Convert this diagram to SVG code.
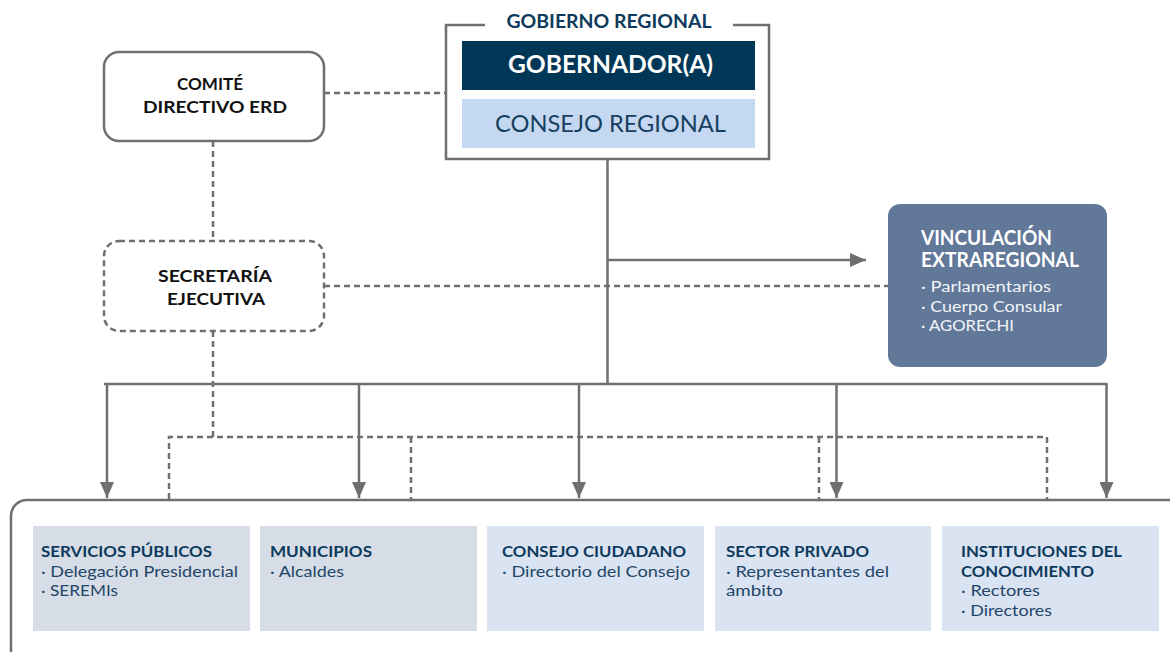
<svg xmlns="http://www.w3.org/2000/svg" width="1170" height="652" viewBox="0 0 1170 652">
<style>
.ln{fill:none;stroke:#6f6f6f;stroke-width:2.5}
.ds{fill:none;stroke:#6f6f6f;stroke-width:2.5;stroke-dasharray:6 4}
.t{font-family:Lato,"Open Sans","DejaVu Sans",sans-serif}
.b{font-weight:bold}
.ttl{font-family:Lato,"Open Sans",sans-serif;font-weight:bold;font-size:16px;fill:#0d3a5c}
.sub{font-family:Lato,"Open Sans",sans-serif;font-size:16px;fill:#1f4668}
.box1{fill:#d6dde7}
.box2{fill:#dae3f2}
</style>
<defs>
<marker id="ah" viewBox="0 0 16 14" refX="16" refY="7" markerWidth="16" markerHeight="14" markerUnits="userSpaceOnUse" orient="auto">
<path d="M0,0 L16,7 L0,14 z" fill="#6f6f6f"/>
</marker>
</defs>
<rect width="1170" height="652" fill="#ffffff"/>

<g id="container">
<rect x="11" y="500" width="1175" height="200" rx="16" class="ln"/>
</g>

<g id="connectors">
<line x1="607.5" y1="159" x2="607.5" y2="384" class="ln"/>
<line x1="607.5" y1="260" x2="866" y2="260" class="ln" marker-end="url(#ah)"/>
<line x1="104" y1="384" x2="1107.5" y2="384" class="ln"/>
<line x1="107" y1="384" x2="107" y2="498" class="ln" marker-end="url(#ah)"/>
<line x1="359" y1="384" x2="359" y2="498" class="ln" marker-end="url(#ah)"/>
<line x1="579" y1="384" x2="579" y2="498" class="ln" marker-end="url(#ah)"/>
<line x1="836.5" y1="384" x2="836.5" y2="498" class="ln" marker-end="url(#ah)"/>
<line x1="1106.5" y1="384" x2="1106.5" y2="498" class="ln" marker-end="url(#ah)"/>
<line x1="324" y1="93" x2="446" y2="93" class="ds"/>
<line x1="213" y1="141" x2="213" y2="241" class="ds"/>
<line x1="324" y1="286" x2="888" y2="286" class="ds"/>
<line x1="213" y1="331" x2="213" y2="437" class="ds"/>
<path d="M169,499 V437 H1047 V499" class="ds"/>
<line x1="411" y1="437" x2="411" y2="499" class="ds"/>
<line x1="819" y1="437" x2="819" y2="499" class="ds"/>
</g>

<g id="gobierno-regional">
<path d="M485,25 H446 V159 H769 V25 H733" class="ln"/>
<text x="609" y="28" text-anchor="middle" class="t b" font-size="18" fill="#0d3a5c" textLength="205" lengthAdjust="spacingAndGlyphs">GOBIERNO REGIONAL</text>
</g>

<g id="gobernador">
<rect x="462" y="41" width="293" height="49" fill="#003656"/>
<text x="610.5" y="72.5" text-anchor="middle" class="t b" font-size="25" fill="#ffffff" textLength="205" lengthAdjust="spacingAndGlyphs">GOBERNADOR(A)</text>
</g>

<g id="consejo-regional">
<rect x="462" y="99" width="293" height="49" fill="#c5d8f1"/>
<text x="610.5" y="132" text-anchor="middle" class="t" font-size="23.5" fill="#173f5f" textLength="231" lengthAdjust="spacingAndGlyphs">CONSEJO REGIONAL</text>
</g>

<g id="comite">
<rect x="104" y="52" width="220" height="89" rx="15" class="ln" fill="#ffffff"/>
<text x="210" y="90" text-anchor="middle" class="t b" font-size="17" fill="#111111" textLength="66" lengthAdjust="spacingAndGlyphs">COMITÉ</text>
<text x="215" y="113" text-anchor="middle" class="t b" font-size="17" fill="#111111" textLength="144" lengthAdjust="spacingAndGlyphs">DIRECTIVO ERD</text>
</g>

<g id="secretaria">
<rect x="104" y="241" width="220" height="90" rx="15" class="ds" fill="#ffffff"/>
<text x="215" y="282" text-anchor="middle" class="t b" font-size="17" fill="#111111" textLength="114" lengthAdjust="spacingAndGlyphs">SECRETARÍA</text>
<text x="216" y="305" text-anchor="middle" class="t b" font-size="17" fill="#111111" textLength="98" lengthAdjust="spacingAndGlyphs">EJECUTIVA</text>
</g>

<g id="vinculacion">
<rect x="888" y="204" width="219" height="163" rx="12" fill="#627899"/>
<text x="921" y="245" class="t b" font-size="20" fill="#ffffff" textLength="131" lengthAdjust="spacingAndGlyphs">VINCULACIÓN</text>
<text x="921" y="267" class="t b" font-size="20" fill="#ffffff" textLength="158" lengthAdjust="spacingAndGlyphs">EXTRAREGIONAL</text>
<text x="921" y="292" class="t" font-size="15.5" fill="#f2f5fa" textLength="130" lengthAdjust="spacingAndGlyphs">· Parlamentarios</text>
<text x="921" y="312" class="t" font-size="15.5" fill="#f2f5fa" textLength="141" lengthAdjust="spacingAndGlyphs">· Cuerpo Consular</text>
<text x="921" y="331" class="t" font-size="15.5" fill="#f2f5fa" textLength="93" lengthAdjust="spacingAndGlyphs">· AGORECHI</text>
</g>

<g id="servicios-publicos">
<rect x="33" y="526" width="217" height="105" class="box1"/>
<text x="41" y="556.5" class="ttl" textLength="171" lengthAdjust="spacingAndGlyphs">SERVICIOS PÚBLICOS</text>
<text x="41" y="576.5" class="sub" textLength="197" lengthAdjust="spacingAndGlyphs">· Delegación Presidencial</text>
<text x="41" y="596" class="sub" textLength="77" lengthAdjust="spacingAndGlyphs">· SEREMIs</text>
</g>

<g id="municipios">
<rect x="260" y="526" width="217" height="105" class="box1"/>
<text x="270" y="556.5" class="ttl" textLength="102" lengthAdjust="spacingAndGlyphs">MUNICIPIOS</text>
<text x="270" y="576.5" class="sub" textLength="74" lengthAdjust="spacingAndGlyphs">· Alcaldes</text>
</g>

<g id="consejo-ciudadano">
<rect x="487" y="526" width="217" height="105" class="box2"/>
<text x="502" y="556.5" class="ttl" textLength="184" lengthAdjust="spacingAndGlyphs">CONSEJO CIUDADANO</text>
<text x="502" y="576.5" class="sub" textLength="188" lengthAdjust="spacingAndGlyphs">· Directorio del Consejo</text>
</g>

<g id="sector-privado">
<rect x="715" y="526" width="216" height="105" class="box2"/>
<text x="726" y="556.5" class="ttl" textLength="143" lengthAdjust="spacingAndGlyphs">SECTOR PRIVADO</text>
<text x="726" y="576.5" class="sub" textLength="163" lengthAdjust="spacingAndGlyphs">· Representantes del</text>
<text x="726" y="596" class="sub" textLength="57" lengthAdjust="spacingAndGlyphs">ámbito</text>
</g>

<g id="instituciones">
<rect x="942" y="526" width="217" height="105" class="box2"/>
<text x="961" y="556.5" class="ttl" textLength="161" lengthAdjust="spacingAndGlyphs">INSTITUCIONES DEL</text>
<text x="961" y="576.5" class="ttl" textLength="133" lengthAdjust="spacingAndGlyphs">CONOCIMIENTO</text>
<text x="961" y="596" class="sub" textLength="79" lengthAdjust="spacingAndGlyphs">· Rectores</text>
<text x="961" y="616" class="sub" textLength="91" lengthAdjust="spacingAndGlyphs">· Directores</text>
</g>
</svg>
